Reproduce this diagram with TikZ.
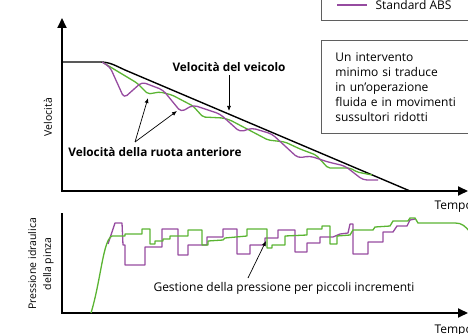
\documentclass[tikz,border=0pt]{standalone}
\usepackage{fontspec}
\setmainfont{Open Sans}
\usetikzlibrary{arrows.meta}

\definecolor{ebdgreen}{RGB}{90,180,50}
\definecolor{stdpurple}{RGB}{150,75,160}
\definecolor{boxgray}{RGB}{95,95,95}

\begin{document}
\begin{tikzpicture}[
    x = 1pt, y = -1pt,
    axisline/.style = {line width = 1.8pt},
    tip/.tip = {Triangle[length = 10pt, width = 9pt]},
    vehicle/.style = {line width = 1.4pt, black, line join = round},
    ebd/.style = {line width = 1.3pt, ebdgreen, line join = round},
    standard/.style = {line width = 1.3pt, stdpurple, line join = round},
    curvename/.style = {font = \fontsize{11.8}{14}\selectfont\bfseries},
    note/.style = {font = \fontsize{12}{14}\selectfont},
    sidenote/.style = {font = \fontsize{10.5}{15}\selectfont},
    pointer/.style = {line width = 0.7pt,
      -{Latex[length = 5pt, width = 4pt]}},
    frame/.style = {draw = boxgray, line width = 0.8pt},
    ]

    \useasboundingbox (0, 0) rectangle (468, 334);

    % axes
    \coordinate (v_top) at (62, 18);
    \coordinate (v_right) at (468, 191);
    \coordinate (p_top) at (62, 213);
    \coordinate (p_right) at (468, 313);

    \draw [axisline, tip-tip] (v_top) |- (v_right);
    \draw [axisline, -tip] (p_top) |- (p_right);

    \node at (48, 117) [sidenote, rotate = 90, name = v_axis] {Velocità};
    \node at (431, 207) [note, anchor = west, name = t_top] {Tempo};
    \node at (41, 264) [sidenote, rotate = 90, align = center,
      name = p_axis] {Pressione idraulica\\della pinza};
    \node at (431, 331) [note, anchor = west, name = t_bottom] {Tempo};

    % speed curves
    \draw [vehicle] (62, 62) -- (100, 62)
    .. controls (110, 62) and (115, 65.5) .. (125, 70) -- (410, 191);

    \draw [ebd, rounded corners = 2pt] (102, 62) -- (137, 83) -- (148, 94)
    -- (160, 92) -- (172, 95) -- (193, 106) -- (203, 117) -- (223, 118)
    -- (230, 120) -- (268, 140) -- (285, 142) -- (300, 149) -- (316, 155)
    -- (328, 168) -- (350, 168) -- (357, 172) -- (372, 175);

    \draw [standard, rounded corners = 4pt] (102, 62) -- (110, 67)
    -- (124, 98) -- (142, 82) -- (163, 90) -- (181, 112) -- (193, 105)
    -- (220, 114) -- (240, 132) -- (252, 128) -- (272, 134) -- (298, 158)
    -- (310, 156) -- (328, 162) -- (345, 166) -- (363, 180) -- (378, 180);

    \node at (229, 67) [curvename, name = vehicle_name]
    {Velocità del veicolo};
    \coordinate (vehicle_tip) at (229, 111);
    \draw [pointer] (vehicle_name.south) -- (vehicle_tip);

    \node at (155, 152) [curvename, name = wheel_name]
    {Velocità della ruota anteriore};
    \coordinate (wheel_foot) at (135, 142);
    \coordinate (wheel_tip_a) at (148, 98);
    \coordinate (wheel_tip_b) at (177, 111);
    \draw [pointer] (wheel_foot) -- (wheel_tip_a);
    \draw [pointer] (wheel_foot) -- (wheel_tip_b);

    % pressure curves
    \draw [standard] (108, 244) -- (115, 223) -- (122, 223) -- (123, 245)
    -- (125, 245) -- (125, 265) -- (145, 265) -- (145, 247) -- (162, 247)
    -- (162, 229) -- (178, 229) -- (178, 255) -- (188, 255) -- (188, 245)
    -- (207, 245) -- (207, 237) -- (223, 237) -- (223, 229) -- (237, 229)
    -- (237, 254) -- (250, 254) -- (250, 245) -- (265, 245) -- (265, 238)
    -- (278, 238) -- (278, 230) -- (295, 230) -- (295, 252) -- (307, 252)
    -- (307, 243) -- (320, 243) -- (320, 237) -- (333, 237) -- (340, 234)
    -- (348, 233) -- (350, 224) -- (353, 224) -- (353, 254) -- (368, 254)
    -- (368, 242) -- (383, 242) -- (383, 232) -- (393, 232) -- (397, 226)
    -- (407, 226) -- (410, 220) -- (415, 219);

    \draw [ebd] (91, 313) .. controls (101, 280) and (103, 240) .. (112, 236)
    -- (125, 236) -- (125, 234) -- (142, 234) -- (142, 229) -- (150, 229)
    -- (150, 244) -- (155, 244) -- (155, 241) -- (163, 241) -- (163, 239)
    -- (170, 239) -- (170, 236) -- (188, 236) -- (188, 230) -- (202, 230)
    -- (202, 245) -- (208, 245) -- (208, 241) -- (223, 240) -- (225, 238)
    -- (247, 236) -- (247, 229) -- (267, 229) -- (267, 248) -- (272, 248)
    -- (272, 245) -- (285, 245) -- (285, 236) -- (307, 235) -- (307, 229)
    -- (322, 229) -- (322, 226) -- (330, 226) -- (330, 244) -- (337, 244)
    -- (337, 236) -- (350, 235) -- (353, 230) -- (373, 230) -- (375, 227)
    -- (390, 226) -- (393, 221) -- (408, 221) -- (410, 218) -- (415, 218)
    -- (418, 223) -- (455, 223)
    .. controls (462, 223) and (465, 226) .. (470, 232);

    \node at (284, 288) [note, name = step_name]
    {Gestione della pressione per piccoli incrementi};
    \coordinate (step_foot) at (248, 278);
    \coordinate (step_tip) at (266, 241);
    \draw [pointer] (step_foot) -- (step_tip);

    % legend and remark
    \draw [frame] (321, -20) rectangle (490, 20);
    \coordinate (legend_line) at (337, 5);
    \draw [standard] (legend_line) -- +(30, 0);
    \node at (372, 5) [note, anchor = west, name = legend_std]
    {Standard ABS};

    \node at (321, 40) [frame, anchor = north west, name = remark,
      minimum height = 93pt, text width = 140pt, inner xsep = 14pt,
      align = left, font = \fontsize{12}{15}\selectfont]
    {Un intervento\\minimo si traduce\\in un’operazione\\fluida e in
      movimenti\\sussultori ridotti};

  \end{tikzpicture}
\end{document}
